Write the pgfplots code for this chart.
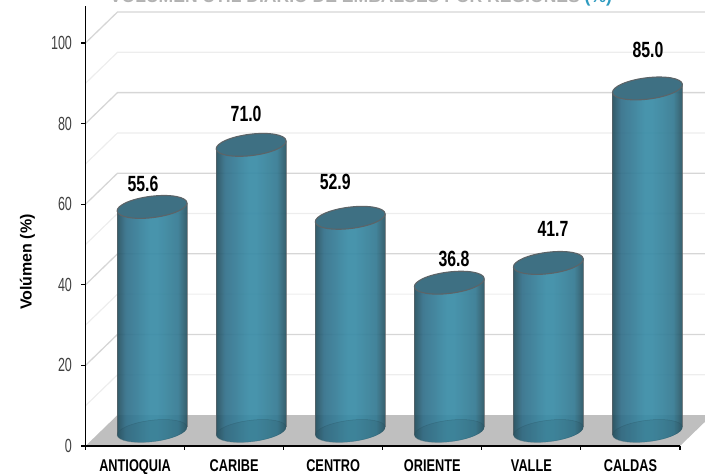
\documentclass[border=0pt]{standalone}
\usepackage{fontspec}
\usepackage{pgfplots}
\pgfplotsset{compat=1.18}
\usepackage{pgfplotstable}
\setmainfont{Liberation Sans}
\newfontfamily\narrowA[FakeStretch=0.75]{Liberation Sans}
\newfontfamily\narrowB[FakeStretch=0.66]{Liberation Sans}
\newfontfamily\narrowC[FakeStretch=0.72]{Liberation Sans}
\definecolor{cA}{HTML}{25505F}
\definecolor{cB}{HTML}{33708A}
\definecolor{cC}{HTML}{3A8CA6}
\definecolor{cD}{HTML}{357A92}
\definecolor{cE}{HTML}{27505E}
\definecolor{capc}{HTML}{3E7083}
\definecolor{edgec}{HTML}{5C6468}
\pgfdeclarehorizontalshading{cyl}{100bp}{color(0bp)=(cA); color(25bp)=(cA); color(31bp)=(cB); color(48bp)=(cC); color(53bp)=(cC); color(68bp)=(cD); color(75bp)=(cE); color(100bp)=(cE)}
% full cylinder, drawn at its data point; its height comes from the value
\newcommand\cylbody[1]{%
  \pgfpathmoveto{\pgfqpoint{-34.9pt}{-4pt}}%
  \pgfpathlineto{\pgfqpoint{-34.9pt}{\dimexpr-4pt-#1\relax}}%
  \pgfpathcurveto{\pgfqpoint{-34.2pt}{\dimexpr-9.85pt-#1\relax}}{\pgfqpoint{-18pt}{\dimexpr-12.8pt-#1\relax}}{\pgfqpoint{1.3pt}{\dimexpr-10.6pt-#1\relax}}%
  \pgfpathcurveto{\pgfqpoint{20.6pt}{\dimexpr-8.4pt-#1\relax}}{\pgfqpoint{35.6pt}{\dimexpr-1.85pt-#1\relax}}{\pgfqpoint{34.9pt}{\dimexpr4pt-#1\relax}}%
  \pgfpathlineto{\pgfqpoint{34.9pt}{4pt}}%
  \pgfpathclose}
\pgfdeclareplotmark{cyl}{%
  \pgftransformshift{\pgfqpoint{17pt}{15pt}}%
  \pgfmathparse{\val*4.03}%
  \edef\cylh{\pgfmathresult pt}%
  \begin{pgfscope}
    \pgfsetfillopacity{0.93}%
    \cylbody{\cylh}\pgfshadepath{cyl}{0}%
  \end{pgfscope}
  \begin{pgfscope}
    \pgfsetstrokecolor{edgec}\pgfsetlinewidth{0.7pt}\pgfsetstrokeopacity{0.7}%
    \pgfpathmoveto{\pgfqpoint{-34.9pt}{-4pt}}\pgfpathlineto{\pgfqpoint{-34.9pt}{\dimexpr-4pt-\cylh\relax}}%
    \pgfpathmoveto{\pgfqpoint{34.9pt}{4pt}}\pgfpathlineto{\pgfqpoint{34.9pt}{\dimexpr4pt-\cylh\relax}}%
    \pgfusepath{stroke}%
  \end{pgfscope}
  \begin{pgfscope}
    \pgfsetfillcolor{cE}\pgfsetfillopacity{0.18}%
    \pgfsetstrokecolor{cE}\pgfsetstrokeopacity{0.35}\pgfsetlinewidth{0.5pt}%
    \pgfpathellipse{\pgfqpoint{0pt}{-\cylh}}{\pgfqpoint{34.9pt}{4.3pt}}{\pgfqpoint{-1.3pt}{10.6pt}}%
    \pgfusepath{fill,stroke}%
  \end{pgfscope}
  \begin{pgfscope}
    \pgfsetfillcolor{capc}\pgfsetstrokecolor{edgec}\pgfsetlinewidth{1.1pt}%
    \pgfpathellipse{\pgfpointorigin}{\pgfqpoint{34.9pt}{4.3pt}}{\pgfqpoint{-1.3pt}{10.6pt}}%
    \pgfusepath{fill,stroke}%
  \end{pgfscope}
}
\pgfplotstableread{
x  v    dx   dy
0  55.6 -9   23
1  71.0 -5   31
2  52.9 -15  36
3  36.8 4.7  24
4  41.7 4.6  34
5  85.0 0.5  38.5
}\datatable
\begin{document}
\begin{tikzpicture}[x=1pt,y=1pt]
\clip (-85.5,-28) rectangle (619.5,446);
\path[use as bounding box] (-85.5,-28) rectangle (619.5,446);
\begin{axis}[
  at={(0,0)}, anchor=south west,
  scale only axis, width=594.5pt, height=440pt,
  xmin=-0.5, xmax=5.5, ymin=0, ymax=109.18,
  clip=false, axis on top,
  axis x line*=bottom, axis y line*=left,
  axis line style={black,line width=1.3pt},
  xtick={0,...,5},
  xticklabels={ANTIOQUIA,CARIBE,CENTRO,ORIENTE,VALLE,CALDAS},
  minor xtick={-0.5,0.5,1.5,2.5,3.5,4.5,5.5},
  major x tick style={draw=none},
  minor x tick style={black,line width=1.1pt},
  minor tick length=4pt,
  ytick={0,20,...,100},
  major tick length=4pt, tick align=outside,
  y tick style={black,line width=1.1pt},
  yticklabel style={font=\narrowB\fontsize{19}{19}\selectfont,text=black!75,xshift=-6pt},
  xticklabel style={font=\narrowA\bfseries\fontsize{17}{17}\selectfont,text=black,yshift=-6pt},
  /pgf/number format/assume math mode=true,
  ylabel={Volúmen (\%)},
  every axis y label/.style={at={(axis description cs:0,0.418)},rotate=90,anchor=center,yshift=58pt,font=\bfseries\fontsize{16}{16}\selectfont},
]
% floor
\addplot[draw=none,fill=black!25] coordinates {(-0.5,0) (5.5,0) (5.823,7.69) (-0.177,7.69)} -- cycle;
% wall lines
\addplot[black!7,line width=1.2pt,unbounded coords=jump] coordinates {
(-0.5,10) (-0.177,17.69) (5.823,17.69) (-0.5,nan)
(-0.5,30) (-0.177,37.69) (5.823,37.69) (-0.5,nan)
(-0.5,50) (-0.177,57.69) (5.823,57.69) (-0.5,nan)
(-0.5,70) (-0.177,77.69) (5.823,77.69) (-0.5,nan)
(-0.5,90) (-0.177,97.69) (5.823,97.69)};
\addplot[black!16,line width=1.3pt,unbounded coords=jump] coordinates {
(-0.5,20) (-0.177,27.69) (5.823,27.69) (-0.5,nan)
(-0.5,40) (-0.177,47.69) (5.823,47.69) (-0.5,nan)
(-0.5,60) (-0.177,67.69) (5.823,67.69) (-0.5,nan)
(-0.5,80) (-0.177,87.69) (5.823,87.69) (-0.5,nan)
(-0.5,100) (-0.177,107.69) (5.823,107.69)};
% cylinders
\addplot[scatter,only marks,mark=cyl,
  point meta=\thisrow{v},
  visualization depends on={\thisrow{v}\as\val},
  visualization depends on={\thisrow{dx}\as\dxval},
  visualization depends on={\thisrow{dy}\as\dyval},
  nodes near coords,
  nodes near coords style={anchor=center,xshift=\dxval pt,yshift=\dyval pt,
     font=\narrowC\bfseries\fontsize{22}{22}\selectfont,text=black,
     /pgf/number format/fixed,/pgf/number format/fixed zerofill,/pgf/number format/precision=1},
] table[x=x,y=v] {\datatable};
\end{axis}
\node[anchor=base,inner sep=0pt,text=black!30] at (275.5,443) {\resizebox{502pt}{!}{\bfseries VOLUMEN UTIL DIARIO DE EMBALSES POR REGIONES {\color[HTML]{2E9BC0}(\%)}}};
\end{tikzpicture}
\end{document}
